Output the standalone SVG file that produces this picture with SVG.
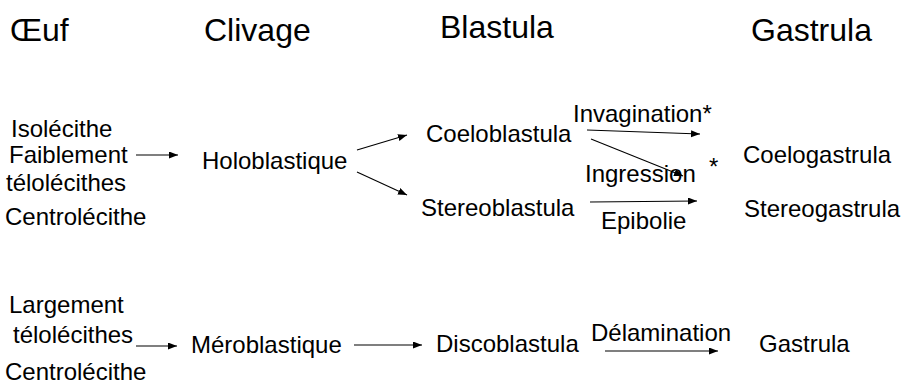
<svg xmlns="http://www.w3.org/2000/svg" width="904" height="385" viewBox="0 0 904 385">
<style>
text{font-family:"Liberation Sans",Arial,sans-serif;fill:#000}
.h{font-size:32px}
.t{font-size:24px}
.c line{stroke:#000;stroke-width:1.1;fill:none}
</style>
<defs>
<marker id="ah" markerUnits="userSpaceOnUse" markerWidth="10" markerHeight="8" refX="9" refY="3.5" orient="auto">
<path d="M0,0 L9,3.5 L0,7 z" fill="#000"/>
</marker>
</defs>
<rect width="904" height="385" fill="#fff"/>
<g id="titles">
<text class="h" x="10" y="41">Œuf</text>
<text class="h" x="204" y="41">Clivage</text>
<text class="h" x="440" y="38">Blastula</text>
<text class="h" x="751" y="41">Gastrula</text>
</g>
<g id="oeuf-holo">
<text class="t" x="11" y="137">Isolécithe</text>
<text class="t" x="9" y="163">Faiblement</text>
<text class="t" x="6" y="191">télolécithes</text>
<text class="t" x="5" y="225">Centrolécithe</text>
</g>
<g id="holoblastique"><text class="t" x="202" y="169">Holoblastique</text></g>
<g id="coeloblastula"><text class="t" x="426" y="142">Coeloblastula</text></g>
<g id="stereoblastula"><text class="t" x="421" y="216">Stereoblastula</text></g>
<g id="coelogastrula"><text class="t" x="743" y="163">Coelogastrula</text></g>
<g id="stereogastrula"><text class="t" x="744" y="217">Stereogastrula</text></g>
<g id="oeuf-mero">
<text class="t" x="9" y="313">Largement</text>
<text class="t" x="13" y="343">télolécithes</text>
<text class="t" x="5" y="380">Centrolécithe</text>
</g>
<g id="meroblastique"><text class="t" x="191" y="353">Méroblastique</text></g>
<g id="discoblastula"><text class="t" x="436" y="352">Discoblastula</text></g>
<g id="gastrula"><text class="t" x="759" y="352">Gastrula</text></g>
<g id="connectors" class="c">
<line x1="136" y1="155" x2="178" y2="155" marker-end="url(#ah)"/>
<line x1="357" y1="150" x2="407" y2="135" marker-end="url(#ah)"/>
<line x1="357" y1="172" x2="407" y2="195" marker-end="url(#ah)"/>
<line x1="587" y1="130" x2="700" y2="134" marker-end="url(#ah)"/>
<line x1="591" y1="139" x2="683" y2="176" marker-end="url(#ah)"/>
<line x1="590" y1="202" x2="697" y2="201" marker-end="url(#ah)"/>
<line x1="136" y1="346" x2="177" y2="346" marker-end="url(#ah)"/>
<line x1="354" y1="345" x2="422" y2="345" marker-end="url(#ah)"/>
<line x1="605" y1="351" x2="718" y2="351" marker-end="url(#ah)"/>
<text class="t" x="573" y="122">Invagination*</text>
<text class="t" x="585" y="182">Ingression</text>
<text class="t" x="709" y="175">*</text>
<text class="t" x="601" y="229">Epibolie</text>
<text class="t" x="591" y="341">Délamination</text>
</g>
</svg>
